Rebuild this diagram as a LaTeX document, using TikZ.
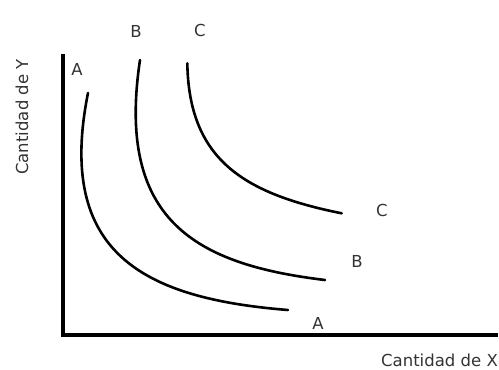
\documentclass[tikz,border=0pt]{standalone}
\usepackage{fontspec}
\setmainfont{DejaVu Sans}
\usetikzlibrary{positioning}

\begin{document}
\begin{tikzpicture}[
    x=1pt, y=-1pt,
    axis/.style={line width=3.5pt},
    curve/.style={line width=2.6pt, line cap=round},
    lbl/.style={font=\fontsize{16.5}{19}\selectfont, text=black!80, inner sep=0pt},
]
\useasboundingbox (0,0) rectangle (499,370);

% ejes
\draw[axis] (63,54) -- (63,335) -- (498,335);
\node[lbl, rotate=90] (ylabel) at (22,117) {Cantidad de Y};
\node[lbl, anchor=east] (xlabel) at (498,360) {Cantidad de X};

% curvas de indiferencia
\draw[curve] (88,93) .. controls (56,253) and (143,298.4) .. (288,310);
\draw[curve] (140,60) .. controls (116,220) and (195,264.4) .. (325,280);
\draw[curve] (187.3,63.3) .. controls (189,158.3) and (241.7,193.3) .. (341.7,213.3);

% etiquetas
\node[lbl] (a1) at (77,69) {A};
\node[lbl] (a2) at (318,323) {A};
\node[lbl] (b1) at (136,31) {B};
\node[lbl] (b2) at (357,261) {B};
\node[lbl] (c1) at (200,30) {C};
\node[lbl] (c2) at (382,210) {C};

\end{tikzpicture}
\end{document}
